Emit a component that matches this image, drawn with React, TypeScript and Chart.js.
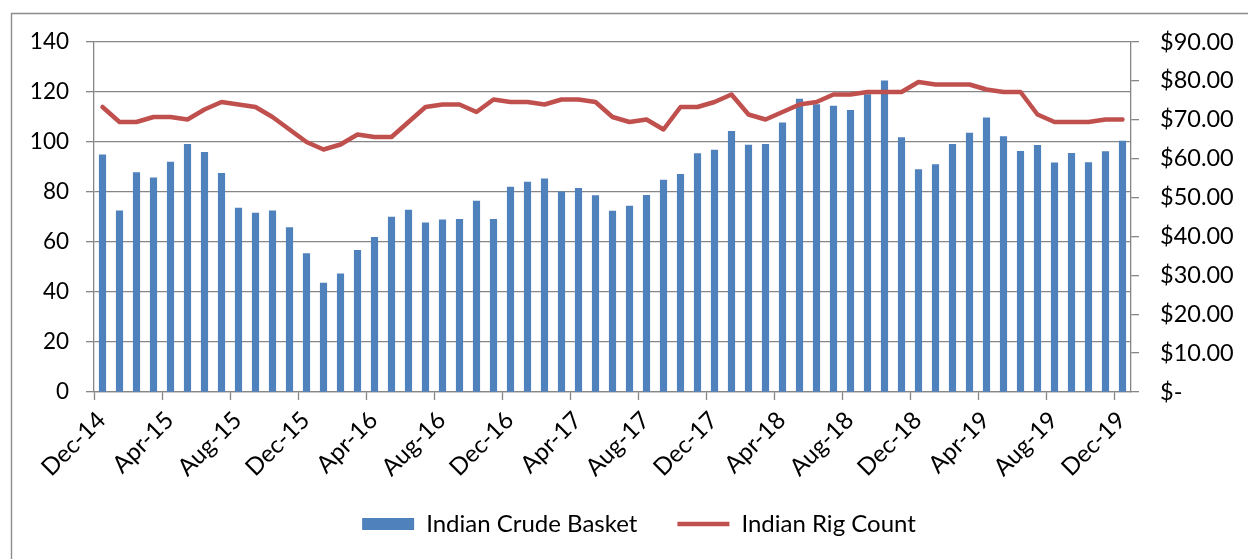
import React, { useEffect, useRef } from 'react';
import { Chart, registerables } from 'chart.js';

Chart.register(...registerables);

const categories = [
  'Dec-14', 'Jan-15', 'Feb-15', 'Mar-15', 'Apr-15', 'May-15', 'Jun-15', 'Jul-15', 'Aug-15', 'Sep-15', 'Oct-15', 'Nov-15',
  'Dec-15', 'Jan-16', 'Feb-16', 'Mar-16', 'Apr-16', 'May-16', 'Jun-16', 'Jul-16', 'Aug-16', 'Sep-16', 'Oct-16', 'Nov-16',
  'Dec-16', 'Jan-17', 'Feb-17', 'Mar-17', 'Apr-17', 'May-17', 'Jun-17', 'Jul-17', 'Aug-17', 'Sep-17', 'Oct-17', 'Nov-17',
  'Dec-17', 'Jan-18', 'Feb-18', 'Mar-18', 'Apr-18', 'May-18', 'Jun-18', 'Jul-18', 'Aug-18', 'Sep-18', 'Oct-18', 'Nov-18',
  'Dec-18', 'Jan-19', 'Feb-19', 'Mar-19', 'Apr-19', 'May-19', 'Jun-19', 'Jul-19', 'Aug-19', 'Sep-19', 'Oct-19', 'Nov-19',
  'Dec-19',
];

// Indian Crude Basket (US$/bbl, right axis)
const crudeBasket = [
  61.0, 46.6, 56.4, 55.1, 59.1, 63.7, 61.6, 56.2, 47.3, 46.0, 46.6, 42.3,
  35.6, 28.0, 30.4, 36.4, 39.8, 45.0, 46.8, 43.5, 44.3, 44.4, 49.1, 44.4,
  52.7, 54.0, 54.8, 51.5, 52.4, 50.5, 46.5, 47.8, 50.6, 54.5, 56.0, 61.3,
  62.2, 67.0, 63.5, 63.7, 69.2, 75.3, 73.9, 73.5, 72.4, 76.5, 80.0, 65.4,
  57.2, 58.5, 63.7, 66.6, 70.5, 65.7, 61.9, 63.4, 58.9, 61.4, 59.0, 61.8,
  64.5,
];

// Indian Rig Count (left axis)
const rigCount = [
  114, 108, 108, 110, 110, 109, 113, 116, 115, 114, 110, 105,
  100, 97, 99, 103, 102, 102, 108, 114, 115, 115, 112, 117,
  116, 116, 115, 117, 117, 116, 110, 108, 109, 105, 114, 114,
  116, 119, 111, 109, 112, 115, 116, 119, 119, 120, 120, 120,
  124, 123, 123, 123, 121, 120, 120, 111, 108, 108, 108, 109,
  109,
];

const leftMin = 0;
const leftMax = 140;
const leftStep = 20;
const rightMin = 0;
const rightMax = 90;
const rightStep = 10;
const labelEvery = 4;

const FONT = 'Lato, "Open Sans", sans-serif';
const GRID = '#868686';

const framePlugin = {
  id: 'frame',
  beforeDraw(chart: any) {
    const ctx = chart.ctx;
    ctx.save();
    ctx.fillStyle = '#ffffff';
    ctx.fillRect(0, 0, chart.width, chart.height);
    ctx.strokeStyle = '#8c8c8c';
    ctx.lineWidth = 1.4;
    ctx.beginPath();
    ctx.moveTo(11.5, chart.height + 2);
    ctx.lineTo(11.5, 13.5);
    ctx.lineTo(chart.width + 2, 13.5);
    ctx.stroke();
    ctx.restore();
  },
};

export default function App() {
  const ref = useRef<HTMLCanvasElement | null>(null);

  useEffect(() => {
    if (!ref.current) return;
    const chart = new Chart(ref.current, {
      type: 'bar',
      data: {
        labels: categories,
        datasets: [
          {
            type: 'bar',
            label: 'Indian Crude Basket',
            data: crudeBasket,
            yAxisID: 'y1',
            backgroundColor: '#4f81bd',
            borderWidth: 0,
            barThickness: 6.5,
            order: 2,
            pointStyle: 'rect',
          } as any,
          {
            type: 'line',
            label: 'Indian Rig Count',
            data: rigCount,
            yAxisID: 'y',
            borderColor: '#c0504d',
            backgroundColor: '#c0504d',
            borderWidth: 4.5,
            borderCapStyle: 'round',
            borderJoinStyle: 'round',
            pointRadius: 0,
            pointHoverRadius: 0,
            tension: 0,
            fill: false,
            order: 1,
            pointStyle: 'line',
          } as any,
        ],
      },
      options: {
        responsive: false,
        animation: false,
        devicePixelRatio: 1,
        layout: { padding: { left: 30, right: 0, top: 42, bottom: 13 } },
        plugins: {
          tooltip: { enabled: false },
          legend: {
            position: 'bottom',
            labels: {
              usePointStyle: true,
              pointStyleWidth: 52,
              boxHeight: 12,
              padding: 40,
              color: '#000',
              font: { family: FONT, size: 24 },
              sort: (a: any, b: any) => a.datasetIndex - b.datasetIndex,
            },
          },
        },
        scales: {
          x: {
            type: 'category',
            offset: true,
            grid: {
              offset: true,
              drawOnChartArea: false,
              drawTicks: true,
              tickLength: 8,
              tickWidth: 1.3,
              color: (c: any) =>
                c.index !== undefined && c.index % labelEvery === 0 ? GRID : 'rgba(0,0,0,0)',
            },
            border: { display: true, color: GRID, width: 1.3 },
            ticks: {
              autoSkip: false,
              maxRotation: 45,
              minRotation: 45,
              labelOffset: -1,
              padding: 6,
              color: '#000',
              font: { family: FONT, size: 24 },
              callback: (_v: any, i: number) => (i % labelEvery === 0 ? categories[i] : ''),
            },
            afterFit: (s: any) => {
              s.height = 80;
              // let rotated labels overflow the axis box instead of being cut off
              s._computeLabelArea = () => undefined;
            },
          },
          y: {
            position: 'left',
            min: leftMin,
            max: leftMax,
            ticks: {
              stepSize: leftStep,
              padding: 17,
              color: '#000',
              font: { family: FONT, size: 22.5 },
            },
            grid: {
              color: GRID,
              lineWidth: 1.3,
              drawTicks: true,
              tickLength: 8,
            },
            border: { display: true, color: GRID, width: 1.3 },
            afterFit: (s: any) => {
              s.width = 64;
            },
          },
          y1: {
            position: 'right',
            min: rightMin,
            max: rightMax,
            ticks: {
              stepSize: rightStep,
              padding: 21,
              color: '#000',
              font: { family: FONT, size: 23.5 },
              callback: (v: any) => (Number(v) === 0 ? '$-' : '$' + Number(v).toFixed(2)),
            },
            grid: {
              drawOnChartArea: false,
              drawTicks: true,
              tickLength: 8,
              color: GRID,
              lineWidth: 1.3,
            },
            border: { display: true, color: GRID, width: 1.3 },
            afterFit: (s: any) => {
              s.width = 117;
            },
          },
        },
      },
      plugins: [framePlugin],
    });
    return () => chart.destroy();
  }, []);

  return (
    <div style={{ position: 'fixed', left: 0, top: 0, width: 1248, height: 559, background: '#fff' }}>
      <canvas ref={ref} width={1248} height={559} style={{ width: 1248, height: 559, display: 'block' }} />
    </div>
  );
}
